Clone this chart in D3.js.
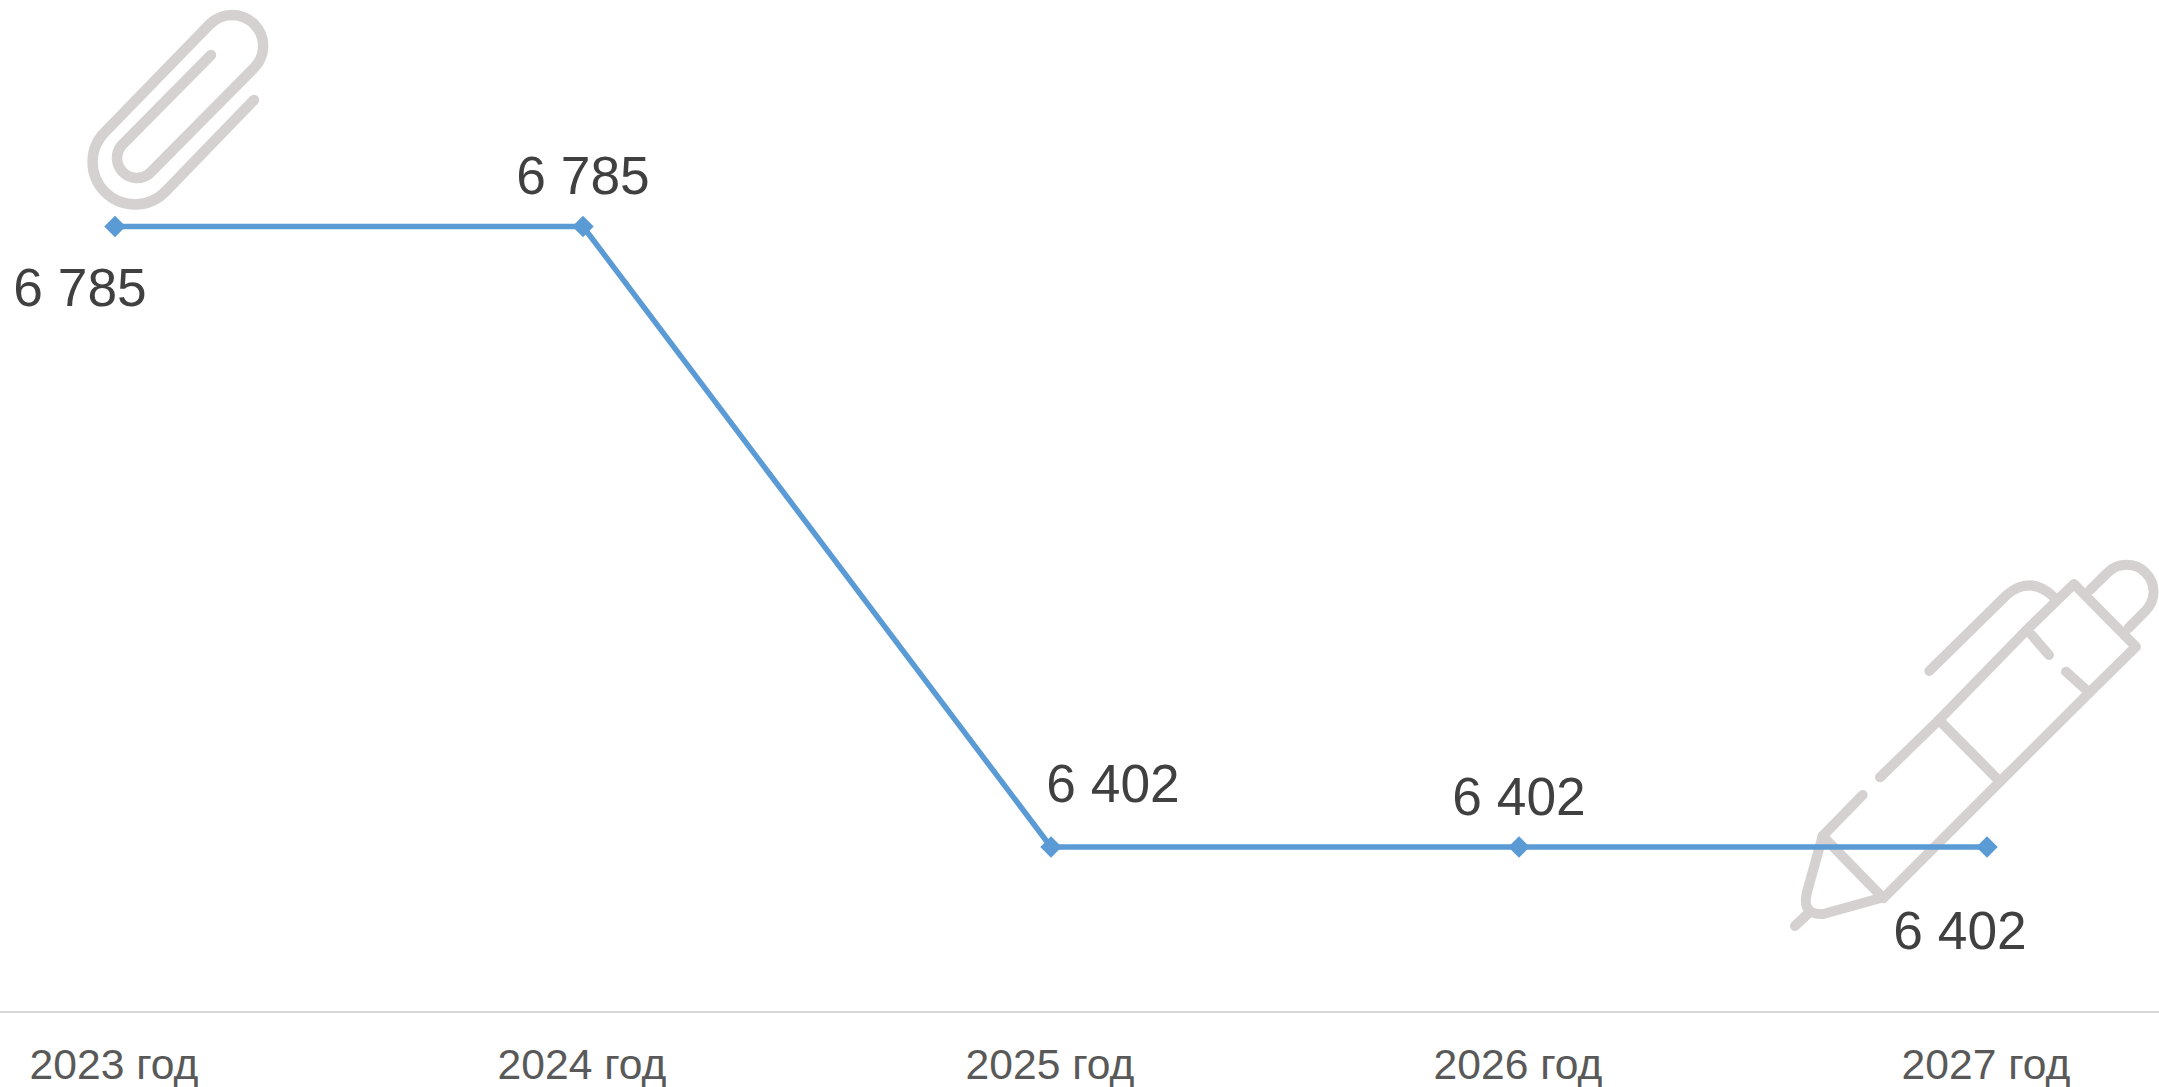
<html>

<head>
  <meta charset="utf-8">
  <style>
    html, body { margin: 0; padding: 0; background: #fff; overflow: hidden; }
    svg { display: block; font-family: "Liberation Sans", Arial, sans-serif; }
    .icon { fill: none; stroke: #d6d1d1; stroke-linecap: round; stroke-linejoin: round; }
    .axis text { font-size: 42.6px; fill: #595959; }
    .value { font-size: 53.3px; fill: #404040; text-anchor: middle; }
  </style>
  <script src="https://d3js.org/d3.v7.min.js"></script>
</head>

<body>
  <svg id="chart"></svg>
  <script type="text/javascript">
    var years = ["2023 год", "2024 год", "2025 год", "2026 год", "2027 год"]
    var values = [6785, 6785, 6402, 6402, 6402]

    var w = 2159
    var h = 1087
    var axisY = 1012
    var labelDx = [-35, 0, 62, 0, -27]
    var labelDy = [79, -33, -45, -32, 102]

    var x = d3.scalePoint().domain(years).range([115, 1987])
    var y = d3.scaleLinear().domain([6402, 6785]).range([847, 226.5])

    var fmt = function(d) {
      return d3.format(",")(d).replace(",", " ")
    }

    var svg = d3.select("#chart").attr("width", w).attr("height", h)

    // paper clip, top left
    svg.append("path")
      .attr("class", "icon")
      .attr("stroke-width", 10.5)
      .attr("d", "M254 100L165 192A42 42 0 0 1 105 132L210 24A31 31 0 0 1 254 68L149 174A20 20 0 0 1 121 146L211 55")

    // pen, bottom right (drawn in 3x units)
    var pen = svg.append("g")
      .attr("class", "icon")
      .attr("stroke-width", 30)
      .attr("transform", "translate(1750,540) scale(0.3333)")
    var penParts = [
      "M1020 150L1073 98A80 80 0 0 1 1187 212L1135 265",
      "M338 765L218 888L400 1075L750 725L1018 458L1158 320L972 132L830 270L567 540L390 712",
      "M567 540L750 725",
      "M218 888L170 1060Q155 1125 220 1122L400 1072",
      "M175 1120L135 1158",
      "M538 393L770 165Q840 105 910 170",
      "M845 285L897 345",
      "M948 395L1018 458"
    ]
    pen.selectAll("path").data(penParts).enter().append("path").attr("d", function(d) {
      return d
    })

    // baseline goes right across the page
    svg.append("line")
      .attr("x1", 0)
      .attr("x2", w)
      .attr("y1", axisY)
      .attr("y2", axisY)
      .attr("stroke", "#d9d9d9")
      .attr("stroke-width", 2)

    var xAxis = d3.axisBottom(x).tickSize(0).offset(0)
    var axisG = svg.append("g")
      .attr("class", "axis")
      .attr("transform", "translate(0," + axisY + ")")
      .call(xAxis)
    axisG.select(".domain").remove()
    axisG.selectAll("text").attr("dy", null).attr("y", 66.5).attr("x", -1)
    axisG.attr("font-family", null).attr("font-size", null)

    // line
    var line = d3.line()
      .x(function(d, i) { return x(years[i]) })
      .y(function(d) { return y(d) })

    svg.append("path")
      .datum(values)
      .attr("d", line)
      .attr("fill", "none")
      .attr("stroke", "#5b9bd5")
      .attr("stroke-width", 5.5)
      .attr("stroke-linejoin", "round")

    // diamonds
    var diamond = d3.symbol().type(d3.symbolSquare).size(230)
    svg.selectAll(".mark")
      .data(values)
      .enter()
      .append("path")
      .attr("class", "mark")
      .attr("d", diamond)
      .attr("fill", "#5b9bd5")
      .attr("transform", function(d, i) {
        return "translate(" + x(years[i]) + "," + y(d) + ") rotate(45)"
      })

    // value labels
    svg.selectAll(".value")
      .data(values)
      .enter()
      .append("text")
      .attr("class", "value")
      .attr("x", function(d, i) { return x(years[i]) + labelDx[i] })
      .attr("y", function(d, i) { return y(d) + labelDy[i] })
      .text(fmt)
  </script>
</body>

</html>
